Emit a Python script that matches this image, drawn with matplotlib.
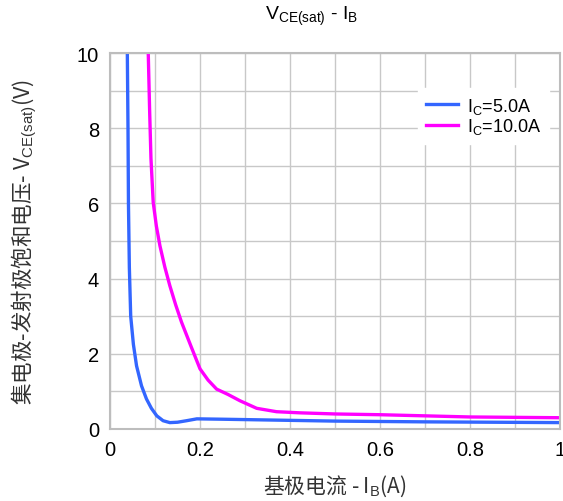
import matplotlib
matplotlib.use('Agg')
import matplotlib.pyplot as plt
import numpy as np

plt.rcParams['font.family'] = ['Liberation Sans', 'DejaVu Sans']
plt.rcParams['mathtext.fontset'] = 'custom'
plt.rcParams['mathtext.rm'] = 'Liberation Sans'

# Ic = 5.0A
ib_5 = [0.0385, 0.040, 0.041, 0.043, 0.046, 0.052, 0.059, 0.070, 0.081, 0.092, 0.104, 0.118, 0.133, 0.150, 0.170, 0.193, 0.25, 0.35, 0.5, 0.7, 0.85, 1.0]
vce_5 = [10.0, 8.0, 6.0, 4.3, 3.0, 2.25, 1.68, 1.15, 0.8, 0.55, 0.35, 0.22, 0.17, 0.18, 0.22, 0.27, 0.26, 0.24, 0.21, 0.19, 0.18, 0.17]

# Ic = 10.0A
ib_10 = [0.085, 0.088, 0.091, 0.096, 0.103, 0.111, 0.122, 0.133, 0.146, 0.159, 0.180, 0.200, 0.218, 0.237, 0.262, 0.289, 0.326, 0.37, 0.422, 0.5, 0.6, 0.7, 0.8, 0.9, 1.0]
vce_10 = [10.0, 8.5, 7.2, 6.03, 5.4, 4.87, 4.3, 3.81, 3.3, 2.84, 2.2, 1.6, 1.3, 1.06, 0.92, 0.75, 0.55, 0.46, 0.43, 0.40, 0.38, 0.35, 0.32, 0.31, 0.30]

fig = plt.figure(figsize=(5.63, 5.02), dpi=100)
ax = fig.add_axes([110/563, 1 - 430/502, 450/563, 376/502])

ax.plot(ib_5, vce_5, color='#3366FF', lw=2.4, label='I$_\\mathrm{C}$=5.0A')
ax.plot(ib_10, vce_10, color='#FF00FF', lw=2.4, label='I$_\\mathrm{C}$=10.0A')

ax.set_xlim(0, 1)
ax.set_ylim(0, 10)
ax.set_xticks(np.arange(0, 1.01, 0.2))
ax.set_xticklabels(['0', '0.2', '0.4', '0.6', '0.8', '1'])
ax.set_xticks(np.arange(0, 1.01, 0.1), minor=True)
ax.set_yticks(np.arange(0, 10.1, 2))
ax.set_yticks(np.arange(0, 10.1, 1), minor=True)
ax.grid(True, which='both', color='#C8C8C8', lw=1)
ax.tick_params(which='both', length=0, labelsize=14.5, pad=8)
for s in ax.spines.values():
    s.set_color('#BDBDBD')
    s.set_linewidth(1.5)

fig.text(312/563, 1 - 16/502, 'V$_\\mathrm{CE(sat)}$ - I$_\\mathrm{B}$', fontsize=14,
         ha='center', va='center')
ax.set_xlabel('基极电流 - I$_\\mathrm{B}$(A)', fontsize=15, labelpad=10, color='#333333',
              family='Noto Sans CJK SC')
ax.set_ylabel('集电极-发射极饱和电压- V$_\\mathrm{CE(sat)}$(V)', fontsize=15.5, labelpad=27,
              color='#333333', family='Noto Sans CJK SC')

leg = ax.legend(loc='upper right', bbox_to_anchor=(0.995, 0.93), frameon=True, fontsize=13,
                handlelength=1.8, handletextpad=0.5, labelspacing=0.05, borderpad=0.4, fancybox=False)
leg.get_frame().set_edgecolor('white')
leg.get_frame().set_alpha(1)

fig.savefig('out.png', dpi=100)
